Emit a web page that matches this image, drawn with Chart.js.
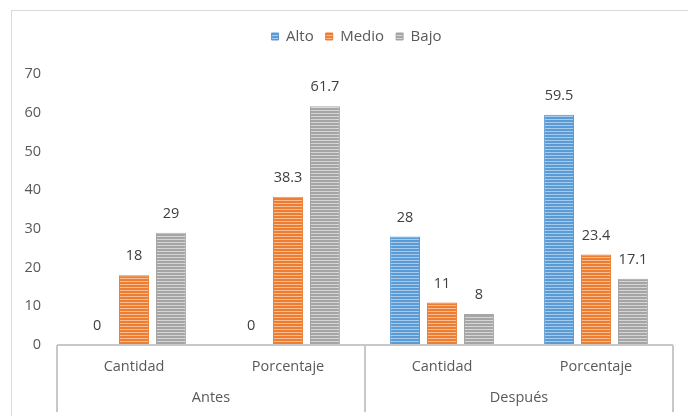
<!DOCTYPE html>
<html>
<head>
<meta charset="utf-8">
<script src="https://cdn.jsdelivr.net/npm/chart.js@4.4.0/dist/chart.umd.min.js"></script>
<style>
  body { margin: 0; background: #fff; }
  #frame { position: absolute; left: 11px; top: 10px; width: 720px; height: 440px; border: 1px solid #d9d9d9; }
  #wrap { position: absolute; left: 0; top: 0; width: 688px; height: 416px; overflow: hidden; }
</style>
</head>
<body>
<div id="wrap">
  <div id="frame"></div>
  <canvas id="chart" width="688" height="416" style="position:absolute;left:0;top:0;"></canvas>
</div>
<script>
//=========================== DATA ================================//
const subLabels = ['Cantidad', 'Porcentaje', 'Cantidad', 'Porcentaje'];
const groupLabels = ['Antes', 'Después'];
const alto = [0, 0, 28, 59.5];
const medio = [18, 38.3, 11, 23.4];
const bajo = [29, 61.7, 8, 17.1];
const yTicks = [0, 10, 20, 30, 40, 50, 60, 70];

const FONT = '"Open Sans", "Liberation Sans", sans-serif';
const FS = 14.5;
const TEXT = '#595959';
const LINE = '#c8c8c8';

// striped fill like the excel "narrow horizontal" pattern
function stripes(base, light){
    let c = document.createElement('canvas');
    c.width = 4; c.height = 3;
    let g = c.getContext('2d');
    g.fillStyle = base;
    g.fillRect(0, 0, 4, 3);
    g.fillStyle = light;
    g.fillRect(0, 2, 4, 1);
    return g.createPattern(c, 'repeat');
}

//======================= PLUGINS ============================================//
// extra room under the legend, and legend nudged right like excel does
const legendGap = {
    id: 'legendGap',
    beforeInit(chart){
        const fit = chart.legend.fit;
        chart.legend.fit = function(){
            fit.call(this);
            this.height += 20;
        };
    },
    afterLayout(chart){
        chart.legend.left += 20;
        chart.legend.right += 20;
    }
};

const valueLabels = {
    id: 'valueLabels',
    afterDatasetsDraw(chart){
        const ctx = chart.ctx;
        ctx.save();
        ctx.font = FS + 'px ' + FONT;
        ctx.fillStyle = '#404040';
        ctx.textAlign = 'center';
        ctx.textBaseline = 'middle';
        chart.data.datasets.forEach((ds, i) => {
            chart.getDatasetMeta(i).data.forEach((bar, j) => {
                ctx.fillText(String(ds.data[j]), bar.x, bar.y - 19);
            });
        });
        ctx.restore();
    }
};

const groupAxis = {
    id: 'groupAxis',
    afterDraw(chart){
        const ctx = chart.ctx;
        const x = chart.scales.x;
        const bottom = chart.chartArea.bottom;
        const half = (x.getPixelForValue(1) - x.getPixelForValue(0)) / 2;
        const per = subLabels.length / groupLabels.length;
        ctx.save();
        ctx.strokeStyle = LINE;
        ctx.lineWidth = 2;
        ctx.beginPath();
        ctx.moveTo(x.left, bottom);
        ctx.lineTo(x.right, bottom);
        for(let g = 0; g <= groupLabels.length; g++){
            let px = g === groupLabels.length ? x.right : x.getPixelForValue(g * per) - half;
            ctx.moveTo(px, bottom);
            ctx.lineTo(px, bottom + 67);
        }
        ctx.stroke();
        ctx.font = FS + 'px ' + FONT;
        ctx.fillStyle = TEXT;
        ctx.textAlign = 'center';
        ctx.textBaseline = 'middle';
        groupLabels.forEach((lab, g) => {
            let a = x.getPixelForValue(g * per) - half;
            let b = x.getPixelForValue(g * per + per - 1) + half;
            ctx.fillText(lab, (a + b) / 2, bottom + 53);
        });
        ctx.restore();
    }
};

//======================= CHART ============================================//
const ctx = document.getElementById('chart').getContext('2d');
const myChart = new Chart(ctx, {
    type: 'bar',
    data: {
        labels: subLabels,
        datasets: [
            { label: 'Alto', data: alto, backgroundColor: stripes('#5b9bd5', '#a9cbeb'), borderColor: '#5b9bd5', borderWidth: 1 },
            { label: 'Medio', data: medio, backgroundColor: stripes('#ed7d31', '#f7bd95'), borderColor: '#ed7d31', borderWidth: 1 },
            { label: 'Bajo', data: bajo, backgroundColor: stripes('#a5a5a5', '#d6d6d6'), borderColor: '#a5a5a5', borderWidth: 1 }
        ]
    },
    options: {
        responsive: false,
        animation: false,
        layout: { padding: { top: 17, right: 15, left: 0, bottom: 0 } },
        datasets: { bar: { categoryPercentage: 0.72, barPercentage: 0.81 } },
        plugins: {
            legend: {
                position: 'top',
                labels: {
                    boxWidth: 7, boxHeight: 7, padding: 12,
                    color: TEXT,
                    font: { family: FONT, size: 15 }
                }
            },
            tooltip: { enabled: false }
        },
        scales: {
            x: {
                grid: { display: false, drawTicks: false },
                border: { display: false },
                ticks: { color: TEXT, font: { family: FONT, size: FS }, padding: 13, maxRotation: 0 },
                afterFit: s => { s.height = 71; }
            },
            y: {
                min: 0, max: 70,
                afterBuildTicks: s => { s.ticks = yTicks.map(v => ({ value: v })); },
                grid: { display: false, drawTicks: false },
                border: { display: false },
                ticks: { color: TEXT, font: { family: FONT, size: FS }, padding: 16 },
                afterFit: s => { s.width = 57; }
            }
        }
    },
    plugins: [legendGap, valueLabels, groupAxis]
});
</script>
</body>
</html>
